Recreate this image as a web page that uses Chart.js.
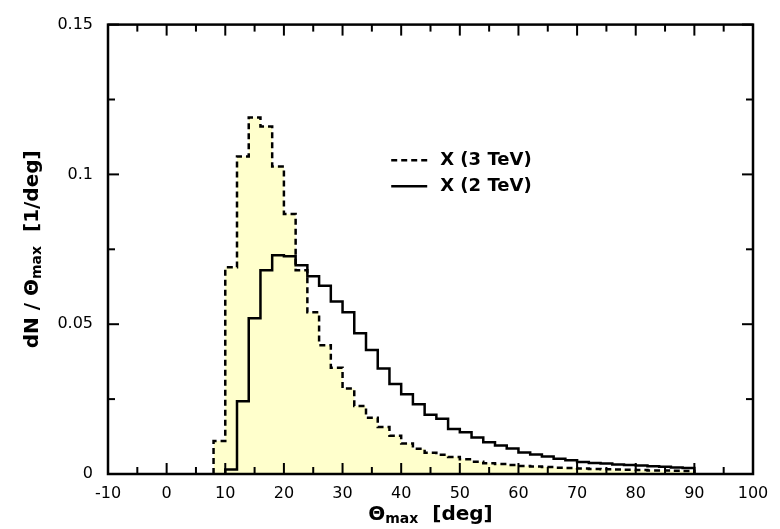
<!DOCTYPE html>
<html><head><meta charset="utf-8">
<script src="https://cdn.jsdelivr.net/npm/chart.js@4"></script>
<style>html,body{margin:0;padding:0;background:#fff}#wrap{width:780px;height:529px}</style>
</head><body><div id="wrap"><canvas id="c" width="780" height="529"></canvas></div>
<script>
// bin edges (deg)
const binEdges = [8,10,12,14,16,18,20,22,24,26,28,30,32,34,36,38,40,42,44,46,48,50,52,54,56,58,60,62,64,66,68,70,72,74,76,78,80,82,84,86,88,90];
// X (3 TeV): one value per bin, starting at bin [8,10]
const tev3 = [0.011,0.069,0.106,0.119,0.116,0.1026,0.0868,0.068,0.054,0.043,0.0355,0.0285,0.0227,0.0188,0.0157,0.0128,0.0102,0.0084,0.0071,0.0064,0.0057,0.0049,0.0041,0.0036,0.0033,0.003,0.0027,0.0025,0.0023,0.0021,0.002,0.0018,0.0017,0.0016,0.0015,0.0014,0.0013,0.0012,0.0012,0.0011,0.001];
// X (2 TeV): starts at bin [10,12]
const tev2 = [null,0.0015,0.0243,0.052,0.068,0.073,0.0727,0.0697,0.066,0.0628,0.0576,0.054,0.047,0.0414,0.0352,0.030,0.0266,0.0233,0.0198,0.0184,0.015,0.0139,0.0122,0.0106,0.0095,0.0085,0.0072,0.0065,0.0058,0.0051,0.0046,0.004,0.0037,0.0035,0.0032,0.003,0.0028,0.0026,0.0024,0.0022,0.002];
const seriesLabels = ['X (3 TeV)', 'X (2 TeV)'];
const xTicks = [-10,0,10,20,30,40,50,60,70,80,90,100];
const xMinorTicks = [-5,5,15,25,35,45,55,65,75,85,95];
const yTicks = [0,0.05,0.1,0.15];
const yMinorTicks = [0.025,0.075,0.125];

function stepPoints(edges, vals){
  const pts = []; let started = false;
  for (let i = 0; i < vals.length; i++){
    if (vals[i] == null) continue;
    if (!started){ pts.push({x:edges[i], y:0}); started = true; }
    pts.push({x:edges[i], y:vals[i]});
  }
  pts.push({x:edges[edges.length-1], y:0});
  return pts;
}

const FONT = '"DejaVu Sans", sans-serif';

function drawParts(ctx, parts, cx, cy, rot){
  ctx.save();
  ctx.translate(cx, cy);
  if (rot) ctx.rotate(rot);
  let w = 0;
  parts.forEach(p => { ctx.font = p.f; p.w = ctx.measureText(p.t).width; w += p.w; });
  let x = -w/2;
  ctx.textBaseline = 'middle'; ctx.textAlign = 'left'; ctx.fillStyle = '#000';
  parts.forEach(p => { ctx.font = p.f; ctx.fillText(p.t, x, p.dy || 0); x += p.w; });
  ctx.restore();
}

const framePlugin = {
  id: 'frame',
  afterDraw(chart){
    const {ctx, chartArea:a, scales:{x, y}} = chart;
    ctx.save();
    ctx.strokeStyle = '#000';
    ctx.lineWidth = 2;
    ctx.setLineDash([]);
    const tick = (x1,y1,x2,y2)=>{ ctx.beginPath(); ctx.moveTo(x1,y1); ctx.lineTo(x2,y2); ctx.stroke(); };
    xTicks.forEach(v => { const p = x.getPixelForValue(v); tick(p,a.bottom,p,a.bottom-11); tick(p,a.top,p,a.top+11); });
    xMinorTicks.forEach(v => { const p = x.getPixelForValue(v); tick(p,a.bottom,p,a.bottom-7); tick(p,a.top,p,a.top+7); });
    yTicks.forEach(v => { const p = y.getPixelForValue(v); tick(a.left,p,a.left+11,p); tick(a.right,p,a.right-11,p); });
    yMinorTicks.forEach(v => { const p = y.getPixelForValue(v); tick(a.left,p,a.left+7,p); tick(a.right,p,a.right-7,p); });
    ctx.lineWidth = 2.5;
    ctx.strokeRect(a.left, a.top, a.right-a.left, a.bottom-a.top);

    // axis titles
    const big = 'bold 20px ' + FONT, small = 'bold 14px ' + FONT;
    drawParts(ctx, [{t:'Θ', f:big},{t:'max', f:small, dy:4},{t:'  [deg]', f:big}], (a.left+a.right)/2, 515, 0);
    drawParts(ctx, [{t:'dN / Θ', f:big},{t:'max', f:small, dy:4},{t:'  [1/deg]', f:big}], 33, (a.top+a.bottom)/2, -Math.PI/2);

    // legend
    const ds = chart.data.datasets;
    const lx = x.getPixelForValue(38.3), ly = y.getPixelForValue(0.1047);
    ctx.font = 'bold 18px ' + FONT; ctx.textBaseline = 'middle'; ctx.fillStyle = '#000';
    ds.forEach((d, i) => {
      const yy = ly + i*26;
      ctx.lineWidth = 2.5;
      ctx.setLineDash(d.borderDash || []);
      tick(lx, yy, lx+36, yy);
      ctx.setLineDash([]);
      ctx.fillText(d.label, lx+49, yy);
    });
    ctx.restore();
  }
};

new Chart(document.getElementById('c'), {
  type: 'line',
  data: { datasets: [
    { label: seriesLabels[0], data: stepPoints(binEdges, tev3), stepped: 'before', borderColor: '#000', borderWidth: 2.5,
      borderDash: [6,4], fill: 'origin', backgroundColor: '#ffffcc', pointRadius: 0, order: 2 },
    { label: seriesLabels[1], data: stepPoints(binEdges, tev2), stepped: 'before', borderColor: '#000', borderWidth: 2.5,
      fill: false, pointRadius: 0, order: 1 }
  ]},
  options: {
    responsive: false, animation: false,
    layout: { padding: { left: 0, right: 27, top: 18, bottom: 0 } },
    plugins: { legend: { display: false }, tooltip: { enabled: false } },
    scales: {
      x: { type: 'linear', min: -10, max: 100,
        afterBuildTicks: s => { s.ticks = xTicks.map(v => ({value: v})); },
        afterFit: s => { s.height = 55; },
        grid: { display: false, drawTicks: false }, border: { display: false },
        ticks: { padding: 10, color: '#000', font: { family: FONT, size: 16 }, maxRotation: 0, autoSkip: false, callback: v => String(v) } },
      y: { type: 'linear', min: 0, max: 0.15,
        afterBuildTicks: s => { s.ticks = yTicks.map(v => ({value: v})); },
        afterFit: s => { s.width = 108; },
        grid: { display: false, drawTicks: false }, border: { display: false },
        ticks: { padding: 15, color: '#000', font: { family: FONT, size: 16 }, autoSkip: false, callback: v => String(v) } }
    }
  },
  plugins: [framePlugin]
});
</script></body></html>
